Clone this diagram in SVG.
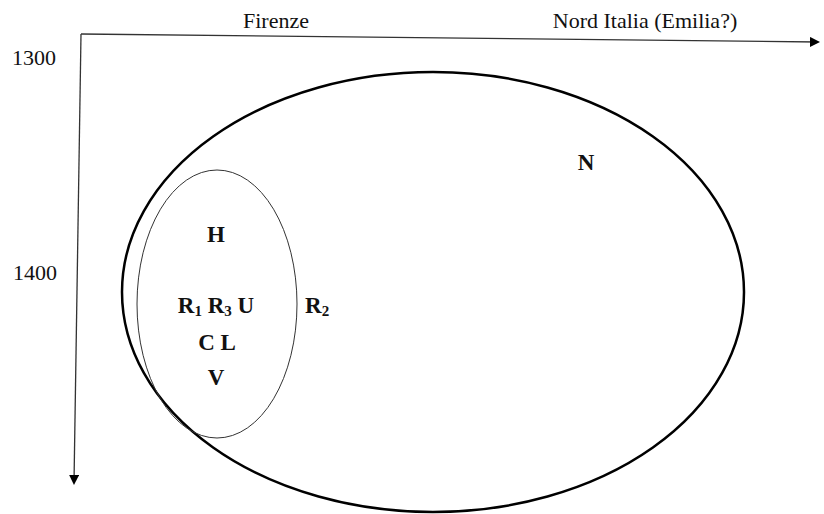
<svg xmlns="http://www.w3.org/2000/svg" width="824" height="514" viewBox="0 0 824 514">
<style>
.lbl{font-family:"Liberation Serif",serif;font-size:22px;fill:#111}
.b{font-family:"Liberation Serif",serif;font-size:23px;font-weight:bold;fill:#111}
.s{font-size:15px}
.ax{stroke:#333;stroke-width:1.3;fill:none}
</style>
<defs>
<marker id="ah" markerWidth="10" markerHeight="10" refX="8" refY="5" orient="auto" markerUnits="userSpaceOnUse">
<path d="M0,0 L10,5 L0,10 Z" fill="#000"/>
</marker>
</defs>
<g id="connectors">
<path class="ax" d="M81,34 L818,42" marker-end="url(#ah)"/>
<path class="ax" d="M81,34 L74,483" marker-end="url(#ah)"/>
</g>
<g id="axis-labels">
<text class="lbl" x="276" y="28" text-anchor="middle">Firenze</text>
<text class="lbl" x="645" y="28" text-anchor="middle">Nord Italia (Emilia?)</text>
<text class="lbl" x="34" y="65" text-anchor="middle">1300</text>
<text class="lbl" x="35" y="280" text-anchor="middle">1400</text>
</g>
<g id="north">
<ellipse cx="433" cy="292" rx="311" ry="220" fill="none" stroke="#000" stroke-width="2.5"/>
<text class="b" x="586" y="170" text-anchor="middle">N</text>
</g>
<g id="florence">
<ellipse cx="217" cy="304" rx="80" ry="134" fill="none" stroke="#333" stroke-width="1"/>
<text class="b" x="216" y="242" text-anchor="middle">H</text>
<text class="b" x="216" y="313" text-anchor="middle">R<tspan class="s" dy="3">1</tspan><tspan dy="-3"> R</tspan><tspan class="s" dy="3">3</tspan><tspan dy="-3"> U</tspan></text>
<text class="b" x="217" y="350" text-anchor="middle">C L</text>
<text class="b" x="216" y="385" text-anchor="middle">V</text>
</g>
<g id="r2">
<text class="b" x="305" y="313">R<tspan class="s" dy="3">2</tspan></text>
</g>
</svg>
